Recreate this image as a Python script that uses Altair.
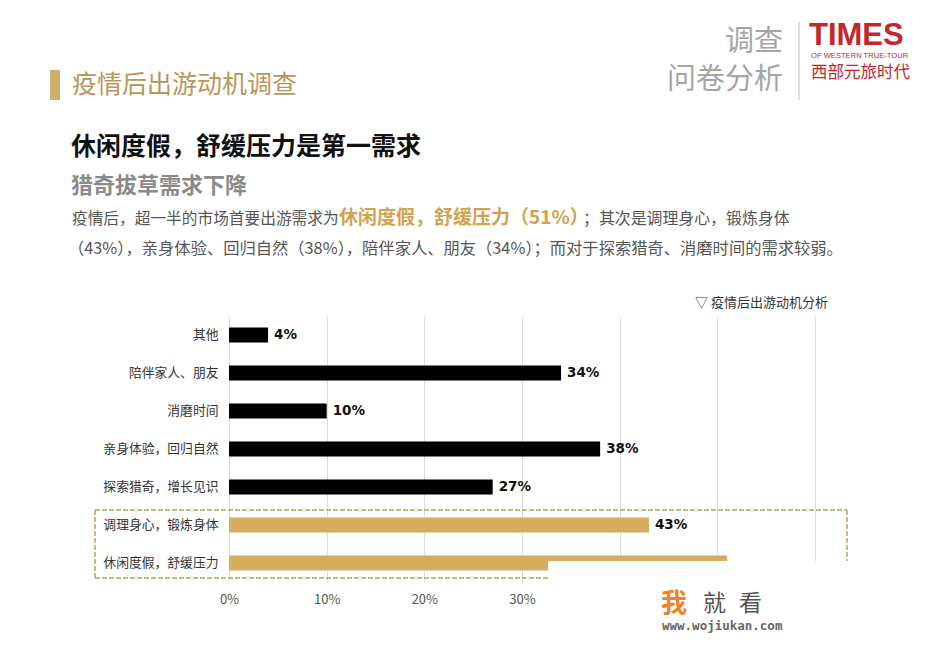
import altair as alt
import pandas as pd

# ---- data ----
categories = ["其他", "陪伴家人、朋友", "消磨时间", "亲身体验，回归自然", "探索猎奇，增长见识", "调理身心，锻炼身体", "休闲度假，舒缓压力"]
values = [4, 34, 10, 38, 27, 43, 51]
highlight = [False, False, False, False, False, True, True]
show_label = [True, True, True, True, True, True, False]
x_ticks = [0, 10, 20, 30, 40, 50, 60]
x_label_max = 30  # labels beyond this are hidden by the watermark patch

title_text = "疫情后出游动机调查"
headline = "休闲度假，舒缓压力是第一需求"
subhead = "猎奇拔草需求下降"
para1_a = "疫情后，超一半的市场首要出游需求为"
para1_b = "休闲度假，舒缓压力（51%）"
para1_c = "；其次是调理身心，锻炼身体"
para2 = "（43%），亲身体验、回归自然（38%），陪伴家人、朋友（34%）；而对于探索猎奇、消磨时间的需求较弱。"
chart_caption = "▽ 疫情后出游动机分析"

FONT = "Noto Sans CJK SC"
GOLD = "#d6ad5f"
TITLE_GOLD = "#b8965a"

# layout (plot area position in page)
PL, PT = 229, 316
W, H = 586, 266

df = pd.DataFrame({
    "cat": categories,
    "val": values,
    "hl": highlight,
    "lab": [f"{v}%" if s else "" for v, s in zip(values, show_label)],
})

base = alt.Chart(df)

bars = base.mark_bar(size=15).encode(
    y=alt.Y("cat:N", sort=categories, title=None,
            scale=alt.Scale(paddingInner=0.6, paddingOuter=0.3),
            axis=alt.Axis(labelFont=FONT, labelFontSize=12.8, labelColor="#333333",
                          ticks=False, domain=False, labelPadding=11, zindex=0)),
    x=alt.X("val:Q", title=None,
            scale=alt.Scale(domain=[0, 60], nice=False),
            axis=alt.Axis(values=x_ticks,
                          labelExpr=f"datum.value <= {x_label_max} ? datum.value + '%' : ''",
                          labelFont=FONT, labelFontSize=13, labelColor="#555555",
                          labelFlush=False,
                          ticks=False, domain=False, labelPadding=11,
                          grid=True, gridColor="#dcdcdc", gridWidth=1, zindex=0)),
    color=alt.Color("hl:N", scale=alt.Scale(domain=[False, True], range=["#000000", GOLD]), legend=None),
)

labels = base.mark_text(align="left", baseline="middle", dx=6, font="DejaVu Sans",
                        fontWeight="bold", fontSize=13.5, color="#111111").encode(
    y=alt.Y("cat:N", sort=categories),
    x=alt.X("val:Q"),
    text="lab:N",
)


def txt(s, x, y, size, color, weight="normal", align="left", font=FONT):
    return alt.Chart(pd.DataFrame({"t": [s]})).mark_text(
        align=align, baseline="middle", fontSize=size, font=font,
        fontWeight=weight, color=color).encode(
        x=alt.value(x - PL), y=alt.value(y - PT), text="t:N")


def rect(x1, y1, x2, y2, color):
    return alt.Chart(pd.DataFrame({"a": [0]})).mark_rect(color=color).encode(
        x=alt.value(x1 - PL), x2=alt.value(x2 - PL),
        y=alt.value(y1 - PT), y2=alt.value(y2 - PT))


def rule(x1, y1, x2, y2, color, dash=None, width=1):
    kw = dict(color=color, strokeWidth=width)
    if dash:
        kw["strokeDash"] = dash
    return alt.Chart(pd.DataFrame({"a": [0]})).mark_rule(**kw).encode(
        x=alt.value(x1 - PL), x2=alt.value(x2 - PL),
        y=alt.value(y1 - PT), y2=alt.value(y2 - PT))


BOX = "#b9a35a"
deco = [
    # header
    rect(50, 70, 60, 100, "#d2ae6e"),
    txt(title_text, 72, 85, 25, TITLE_GOLD),
    txt("调查", 783, 42, 29, "#a5a5a5", align="right"),
    txt("问卷分析", 783, 80, 29, "#a5a5a5", align="right"),
    rule(799, 22, 799, 100, "#bdbdbd"),
    txt("TIMES", 809, 36, 31, "#c4262e", weight="bold", font="Liberation Sans"),
    txt("OF WESTERN TRUE-TOUR", 811, 56, 7.6, "#c4262e", font="Liberation Sans"),
    txt("西部元旅时代", 811, 73, 16.5, "#c4262e"),
    # headline & paragraph
    txt(headline, 71, 147, 25, "#111111", weight="bold"),
    txt(subhead, 71, 186, 22, "#8a8a8a", weight="bold"),
    txt(para1_a, 72, 219, 15.7, "#555555"),
    txt(para1_b, 339, 218, 19, "#d2a24c", weight="bold"),
    txt(para1_c, 583, 219, 15.9, "#555555"),
    txt(para2, 68, 249, 16.3, "#555555"),
    txt(chart_caption, 695, 303, 13, "#333333"),
    # dashed highlight box
    rule(95, 510, 847, 510, BOX, dash=[5, 2], width=1.5),
    rule(95, 578, 847, 578, BOX, dash=[5, 2], width=1.5),
    rule(95, 510, 95, 578, BOX, dash=[5, 2], width=1.5),
    rule(847, 510, 847, 578, BOX, dash=[5, 2], width=1.5),
    # watermark patch
    rect(548, 561, 927, 618, "#ffffff"),
    txt("我", 661, 604, 26, "#f08424", weight="bold"),
    txt("就", 703, 604, 23, "#555555"),
    txt("看", 739, 604, 23, "#555555"),
    txt("www.wojiukan.com", 662, 626, 12.5, "#666666", weight="bold", font="DejaVu Sans Mono"),
]

chart = alt.layer(bars, labels, *deco).properties(
    width=W, height=H,
    padding={"left": PL, "top": PT, "right": 927 - PL - W, "bottom": 654 - PT - H},
    autosize=alt.AutoSizeParams(type="none"),
    background="#ffffff",
).configure_view(stroke=None)

chart.save("out.html", embed_options={"renderer": "svg", "actions": False})
